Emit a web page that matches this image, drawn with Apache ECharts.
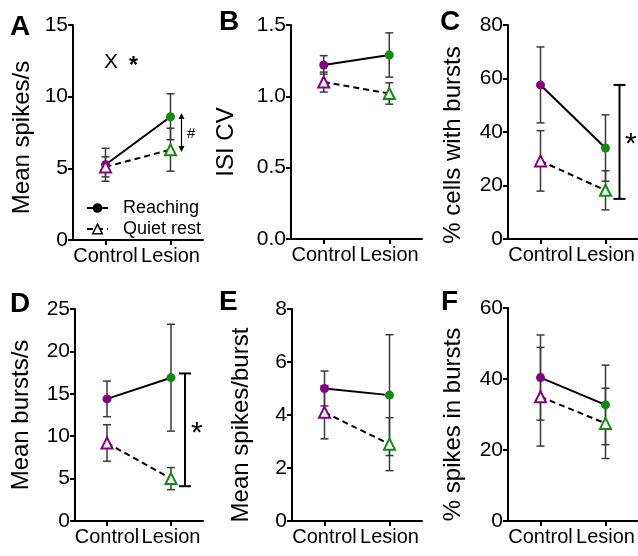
<!DOCTYPE html>
<html>
<head>
<meta charset="utf-8">
<script src="https://cdn.jsdelivr.net/npm/echarts@6/dist/echarts.min.js"></script>
<style>
html, body { margin: 0; padding: 0; background: #fff; }
#chart { width: 638px; height: 556px; }
</style>
</head>
<body>
<div id="chart"></div>
<script>
const categories = ['Control', 'Lesion'];
const dotColors = ['#800080', '#138a13'];

// A: mean spikes/s
const spikesReach = [5.25, 8.6];
const spikesReachErr = [1.15, 1.6];
const spikesRest = [5.1, 6.3];
const spikesRestErr = [0.7, 1.5];

// B: ISI CV
const cvReach = [1.22, 1.29];
const cvReachErr = [0.065, 0.155];
const cvRest = [1.10, 1.02];
const cvRestErr = [0.07, 0.075];

// C: % cells with bursts
const cellsReach = [57.6, 34.0];
const cellsReachErr = [14.2, 12.4];
const cellsRest = [29.2, 18.2];
const cellsRestErr = [11.3, 7.3];

// D: mean bursts/s
const burstsReach = [14.4, 16.9];
const burstsReachErr = [2.1, 6.3];
const burstsRest = [9.2, 5.0];
const burstsRestErr = [2.15, 1.3];

// E: mean spikes/burst
const perBurstReach = [5.0, 4.75];
const perBurstReachErr = [0.66, 2.28];
const perBurstRest = [4.1, 2.9];
const perBurstRestErr = [1.0, 1.0];

// F: % spikes in bursts
const inBurstReach = [40.4, 32.7];
const inBurstReachErr = [12.0, 11.2];
const inBurstRest = [35.0, 27.5];
const inBurstRestErr = [13.9, 9.9];

// annotations (low, high) drawn next to Lesion
const aArrow = [6.14, 8.86];
const cBracket = [15, 57.6];
const dBracket = [4.1, 17.4];

const FONT = 'Liberation Sans, Arial, sans-serif';

const panels = [
    { letter: 'A', name: 'Mean spikes/s', max: 15, step: 5, dec: 0, box: [73, 25, 130, 215], gap: 39, shift: 5, lx: 10, ly: 13,
      reach: spikesReach, reachErr: spikesReachErr, rest: spikesRest, restErr: spikesRestErr },
    { letter: 'B', name: 'ISI CV', max: 1.5, step: 0.5, dec: 1, box: [291, 25, 131, 214], gap: 53, shift: 10, lx: 219, ly: 8,
      reach: cvReach, reachErr: cvReachErr, rest: cvRest, restErr: cvRestErr },
    { letter: 'C', name: '% cells with bursts', max: 80, step: 20, dec: 0, box: [508, 25, 130, 214], gap: 43, shift: 13, lx: 440, ly: 8,
      reach: cellsReach, reachErr: cellsReachErr, rest: cellsRest, restErr: cellsRestErr },
    { letter: 'D', name: 'Mean bursts/s', max: 25, step: 5, dec: 0, box: [75, 309, 128, 212], gap: 42, shift: 0, lx: 10, ly: 290,
      reach: burstsReach, reachErr: burstsReachErr, rest: burstsRest, restErr: burstsRestErr },
    { letter: 'E', name: 'Mean spikes/burst', max: 8, step: 2, dec: 0, box: [292, 309, 130, 212], gap: 39, shift: 10, lx: 219, ly: 288,
      reach: perBurstReach, reachErr: perBurstReachErr, rest: perBurstRest, restErr: perBurstRestErr },
    { letter: 'F', name: '% spikes in bursts', max: 60, step: 20, dec: 0, box: [508, 308, 130, 213], gap: 43, shift: 10, lx: 441, ly: 288,
      reach: inBurstReach, reachErr: inBurstReachErr, rest: inBurstRest, restErr: inBurstRestErr }
];

// vertical error bar with small caps
function renderErr(params, api) {
    const x = api.value(0);
    const top = api.coord([x, api.value(2)]);
    const bot = api.coord([x, api.value(1)]);
    const w = 4;
    const st = { stroke: '#3a3a3a', lineWidth: 1.5 };
    return {
        type: 'group',
        children: [
            { type: 'line', shape: { x1: top[0], y1: top[1], x2: bot[0], y2: bot[1] }, style: st },
            { type: 'line', shape: { x1: top[0] - w, y1: top[1], x2: top[0] + w, y2: top[1] }, style: st },
            { type: 'line', shape: { x1: bot[0] - w, y1: bot[1], x2: bot[0] + w, y2: bot[1] }, style: st }
        ]
    };
}

// significance bracket, shifted right of the Lesion column
function renderBracket(params, api) {
    const x = api.value(0);
    const top = api.coord([x, api.value(2)]);
    const bot = api.coord([x, api.value(1)]);
    const dx = 14, w = 6;
    const st = { stroke: '#000', lineWidth: 2 };
    const cx = top[0] + dx;
    return {
        type: 'group',
        children: [
            { type: 'line', shape: { x1: cx, y1: top[1], x2: cx, y2: bot[1] }, style: st },
            { type: 'line', shape: { x1: cx - w, y1: top[1], x2: cx + w, y2: top[1] }, style: st },
            { type: 'line', shape: { x1: cx - w, y1: bot[1], x2: cx + w, y2: bot[1] }, style: st }
        ]
    };
}

// double headed arrow
function renderArrow(params, api) {
    const x = api.value(0);
    const top = api.coord([x, api.value(2)]);
    const bot = api.coord([x, api.value(1)]);
    const cx = top[0] + 11;
    const st = { stroke: '#000', lineWidth: 1.2 };
    return {
        type: 'group',
        children: [
            { type: 'line', shape: { x1: cx, y1: top[1] + 3, x2: cx, y2: bot[1] - 3 }, style: st },
            { type: 'polygon', shape: { points: [[cx, top[1]], [cx - 3, top[1] + 6], [cx + 3, top[1] + 6]] }, style: { fill: '#000' } },
            { type: 'polygon', shape: { points: [[cx, bot[1]], [cx - 3, bot[1] - 6], [cx + 3, bot[1] - 6]] }, style: { fill: '#000' } }
        ]
    };
}

const grids = [], xAxes = [], yAxes = [], series = [], graphics = [];

panels.forEach((p, i) => {
    grids.push({ left: p.box[0], top: p.box[1], width: p.box[2], height: p.box[3] });
    xAxes.push({
        type: 'category', gridIndex: i, data: categories, boundaryGap: true,
        axisLine: { show: true, lineStyle: { color: '#000', width: 2 } },
        axisTick: { show: true, alignWithLabel: true, length: 5, lineStyle: { color: '#000', width: 2 } },
        axisLabel: { interval: 0, color: '#000', fontSize: 20, fontFamily: FONT, margin: 6 },
        splitLine: { show: false }
    });
    yAxes.push({
        type: 'value', gridIndex: i, min: 0, max: p.max, interval: p.step,
        name: p.name, nameLocation: 'middle', nameGap: p.gap,
        nameTextStyle: { color: '#000', fontSize: 24, fontFamily: FONT, padding: [0, p.shift * 2, 0, 0] },
        axisLine: { show: true, lineStyle: { color: '#000', width: 2 } },
        axisTick: { show: true, length: 5, lineStyle: { color: '#000', width: 2 } },
        axisLabel: { color: '#000', fontSize: 21, fontFamily: FONT, margin: 5,
            formatter: v => v.toFixed(p.dec) },
        splitLine: { show: false }
    });

    const errData = [];
    categories.forEach((c, k) => {
        errData.push([k, p.reach[k] - p.reachErr[k], p.reach[k] + p.reachErr[k]]);
        errData.push([k, p.rest[k] - p.restErr[k], p.rest[k] + p.restErr[k]]);
    });
    series.push({
        type: 'custom', xAxisIndex: i, yAxisIndex: i, z: 1, silent: true,
        renderItem: renderErr, encode: { x: 0, y: [1, 2] }, data: errData
    });
    series.push({
        name: 'Reaching', type: 'line', xAxisIndex: i, yAxisIndex: i, z: 3,
        symbol: 'circle', symbolSize: 9,
        lineStyle: { color: '#000', width: 2 },
        itemStyle: { color: '#000' },
        data: p.reach.map((v, k) => ({ value: v, itemStyle: { color: dotColors[k] } }))
    });
    series.push({
        name: 'Quiet rest', type: 'line', xAxisIndex: i, yAxisIndex: i, z: 3,
        symbol: 'triangle', symbolSize: 11,
        lineStyle: { color: '#000', width: 2, type: [6, 4] },
        itemStyle: { color: '#fff', borderColor: '#000', borderWidth: 2 },
        data: p.rest.map((v, k) => ({ value: v, itemStyle: { color: '#fff', borderColor: dotColors[k] } }))
    });

    graphics.push({
        type: 'text', left: p.lx, top: p.ly,
        style: { text: p.letter, font: 'bold 28px ' + FONT, fill: '#000' }
    });
});

// A: "#" arrow
series.push({
    type: 'custom', xAxisIndex: 0, yAxisIndex: 0, z: 2, silent: true,
    renderItem: renderArrow, encode: { x: 0, y: [1, 2] }, data: [[1, aArrow[0], aArrow[1]]]
});
// C, D brackets
series.push({
    type: 'custom', xAxisIndex: 2, yAxisIndex: 2, z: 2, silent: true,
    renderItem: renderBracket, encode: { x: 0, y: [1, 2] }, data: [[1, cBracket[0], cBracket[1]]]
});
series.push({
    type: 'custom', xAxisIndex: 3, yAxisIndex: 3, z: 2, silent: true,
    renderItem: renderBracket, encode: { x: 0, y: [1, 2] }, data: [[1, dBracket[0], dBracket[1]]]
});

graphics.push(
    { type: 'text', x: 104, y: 62, style: { text: 'X', font: '21px ' + FONT, fill: '#000', textVerticalAlign: 'middle' } },
    { type: 'text', x: 129, y: 67, style: { text: '*', font: 'bold 23px ' + FONT, fill: '#000', textVerticalAlign: 'middle' } },
    { type: 'text', x: 187, y: 134, style: { text: '#', font: '15px ' + FONT, fill: '#000', textVerticalAlign: 'middle' } },
    { type: 'text', x: 625, y: 145, style: { text: '*', font: '30px ' + FONT, fill: '#000', textVerticalAlign: 'middle' } },
    { type: 'text', x: 191, y: 434, style: { text: '*', font: '30px ' + FONT, fill: '#000', textVerticalAlign: 'middle' } }
);

const chart = echarts.init(document.getElementById('chart'));
chart.setOption({
    animation: false,
    backgroundColor: '#fff',
    grid: grids,
    xAxis: xAxes,
    yAxis: yAxes,
    legend: {
        orient: 'vertical', left: 81, top: 194, itemGap: 3,
        itemWidth: 21, itemHeight: 12,
        textStyle: { color: '#000', fontSize: 18, fontFamily: FONT, padding: [0, 0, 0, 10] },
        data: [
            { name: 'Reaching', itemStyle: { color: '#000' } },
            { name: 'Quiet rest', itemStyle: { color: '#fff', borderColor: '#000', borderWidth: 1.5 } }
        ]
    },
    graphic: graphics,
    series: series
});
</script>
</body>
</html>
